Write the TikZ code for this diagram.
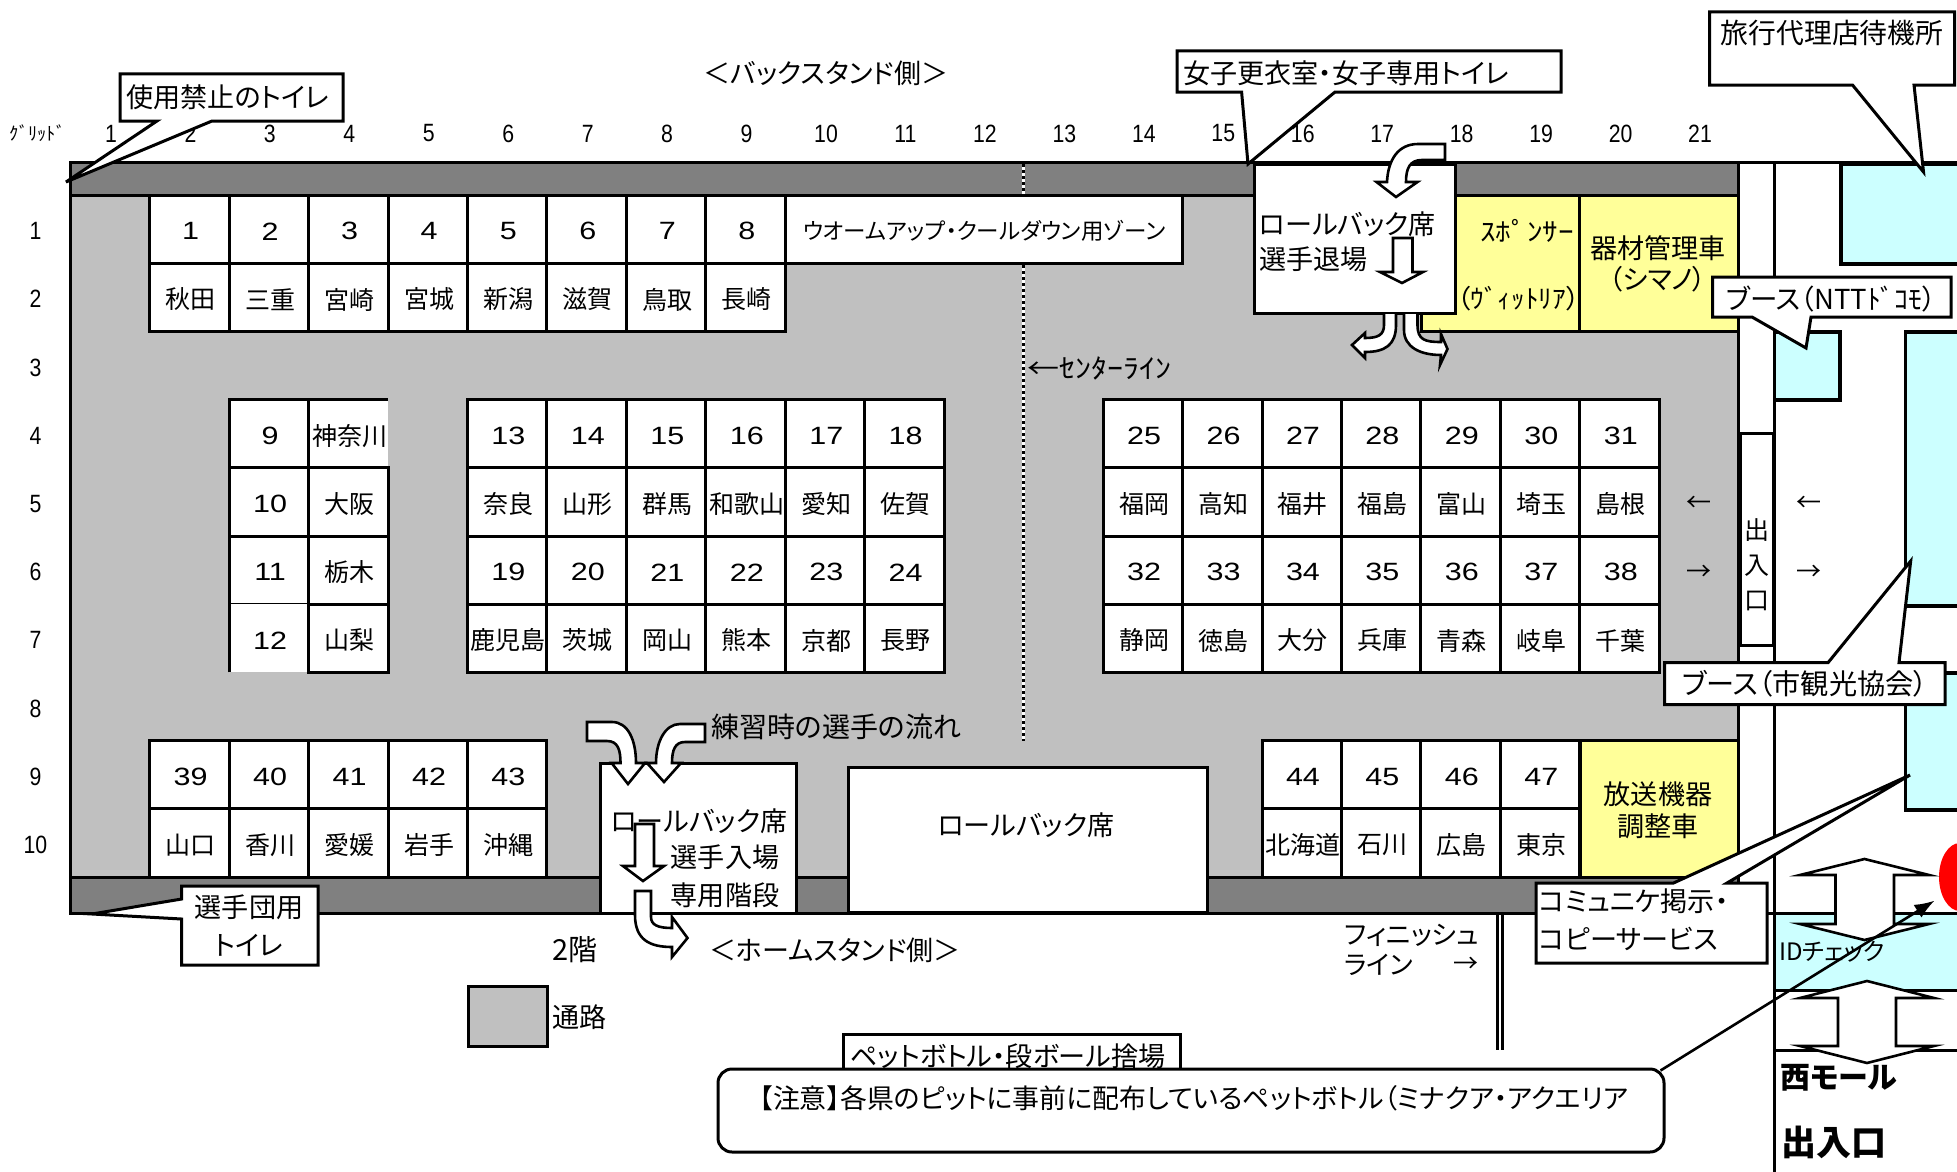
\documentclass[tikz,border=0pt]{standalone}
\usetikzlibrary{arrows.meta}
\usepackage{fontspec}
\setmainfont[RawFeature=+palt]{Noto Sans CJK JP}
\newfontfamily\numf{Liberation Sans}
\newcommand\fs[1]{\fontsize{#1}{#1}\selectfont}
\newcommand\wnum[1]{{\numf\fs{25}\scalebox{1.22}[1]{#1}}}
\newcommand\gnum[1]{{\numf\fs{25}\scalebox{.85}[1]{#1}}}
\newcommand\ct[1]{\hspace*{2.4pt}\raisebox{-2.2pt}[\height][\depth]{#1}}
\definecolor{pathgray}{HTML}{C0C0C0}
\definecolor{bargray}{HTML}{808080}
\definecolor{boothcyan}{HTML}{CCFFFF}
\definecolor{carylw}{HTML}{FFFF99}
\tikzset{
  bline/.style={line width=3pt,line join=miter},
  cellbox/.style={draw=black,line width=3pt,fill=white,minimum width=79.45pt,minimum height=68.2pt,inner sep=0pt,font=\fs{25}},
  fillbox/.style={cellbox,draw=none,outer sep=0pt},
  plain/.style={inner sep=0pt,font=\fs{25}},
  big/.style={inner sep=0pt,font=\fs{27.1}},
  callout/.style={draw=black,line width=3pt,fill=white,line join=miter},
  blockarrow/.style={draw=black,line width=2.6pt,fill=white,line join=miter},
  areabox/.style={draw=black,line width=3pt},
  boothbox/.style={draw=black,line width=3.4pt,fill=boothcyan}
}
\newcommand\cellpair[4]{%
  \pgfmathsetmacro\cx{110+79.45*(#1-1)}%
  \pgfmathsetmacro\cya{229.1+68.2*(#2-1)}%
  \pgfmathsetmacro\cyb{229.1+68.2*(#2)}%
  \node[cellbox] (n#3) at (\cx,\cya) {\ct{\wnum{#3}}};
  \node[cellbox] (p#3) at (\cx,\cyb) {\ct{#4}};
}
\begin{document}
\begin{tikzpicture}[x=1pt,y=-1pt]
\clip (0,0) rectangle (1957,1172);
\useasboundingbox (0,0) rectangle (1957,1172);
% outside booths
\fill[boothcyan] (1774,914) rectangle (1957,990);
\draw[bline] (1774,913) -- (1957,913);
\draw[bline] (1774,990) -- (1957,990);
\draw[bline] (1774,1050) -- (1957,1050);
\draw[boothbox] (1974,164) -- (1841,164) -- (1841,264) -- (1974,264);
\draw[boothbox] (1774,332) -- (1840,332) -- (1840,400) -- (1774,400);
\draw[boothbox] (1974,332) -- (1905.5,332) -- (1905.5,606) -- (1974,606);
\draw[boothbox] (1974,673) -- (1905.5,673) -- (1905.5,810) -- (1974,810);
\fill[red] (1960,877) ellipse [x radius=21,y radius=34];
% main floor
\fill[pathgray] (70,162) rectangle (1738,913);
\fill[bargray] (70,162) rectangle (1738,195);
\fill[bargray] (70,877) rectangle (1738,913);
\draw[bline] (70,195) -- (1738,195);
\draw[bline] (70,877) -- (1738,877);
\draw[bline] (70,913) rectangle (1738,162);
\draw[bline] (1738,162) -- (1957,162);
\draw[bline] (1738,913) -- (1774,913);
\draw[bline] (1774,162) -- (1774,1172);
\draw[bline] (1497,913) -- (1497,1050);
\draw[bline] (1502,913) -- (1502,1050);
% centre line
\draw[white,line width=3pt] (1023,164) -- (1023,195);
\draw[white,line width=3pt] (1023,265) -- (1023,741);
\draw[line width=3pt,dash pattern=on 3pt off 3pt] (1023,164) -- (1023,195);
\draw[line width=3pt,dash pattern=on 3pt off 3pt] (1023,265) -- (1023,741);
% yellow areas
\node[areabox,fill=carylw,minimum width=158pt,minimum height=136.4pt,inner sep=0pt] (spons) at (1500,263.3) {};
\node[areabox,fill=carylw,minimum width=159pt,minimum height=136.4pt,inner sep=0pt] (kizai) at (1658.5,263.3) {};
\node[areabox,fill=carylw,minimum width=158pt,minimum height=136.4pt,inner sep=0pt] (hoso) at (1659,808.8) {};
\node[plain,anchor=east,font=\fs{26}] (sponsa) at (1574,231) {\scalebox{1.2}[1]{ｽﾎﾟﾝｻｰ}};
\node[plain,anchor=east,font=\fs{26}] (sponsb) at (1580,299) {\scalebox{1.05}[1]{（ｳﾞｨｯﾄﾘｱ）}};
\node[big] (kizaia) at (1658,248) {器材管理車};
\node[big] (kizaib) at (1658,279) {（シマノ）};
\node[big] (hosoa) at (1658,794) {放送機器};
\node[big] (hosob) at (1658,826) {調整車};
% seats
\cellpair{2}{1}{1}{秋田}
\cellpair{3}{1}{2}{三重}
\cellpair{4}{1}{3}{宮崎}
\cellpair{5}{1}{4}{宮城}
\cellpair{6}{1}{5}{新潟}
\cellpair{7}{1}{6}{滋賀}
\cellpair{8}{1}{7}{鳥取}
\cellpair{9}{1}{8}{長崎}
\cellpair{6}{4}{13}{奈良}
\cellpair{7}{4}{14}{山形}
\cellpair{8}{4}{15}{群馬}
\cellpair{9}{4}{16}{和歌山}
\cellpair{10}{4}{17}{愛知}
\cellpair{11}{4}{18}{佐賀}
\cellpair{6}{6}{19}{鹿児島}
\cellpair{7}{6}{20}{茨城}
\cellpair{8}{6}{21}{岡山}
\cellpair{9}{6}{22}{熊本}
\cellpair{10}{6}{23}{京都}
\cellpair{11}{6}{24}{長野}
\cellpair{14}{4}{25}{福岡}
\cellpair{15}{4}{26}{高知}
\cellpair{16}{4}{27}{福井}
\cellpair{17}{4}{28}{福島}
\cellpair{18}{4}{29}{富山}
\cellpair{19}{4}{30}{埼玉}
\cellpair{20}{4}{31}{島根}
\cellpair{14}{6}{32}{静岡}
\cellpair{15}{6}{33}{徳島}
\cellpair{16}{6}{34}{大分}
\cellpair{17}{6}{35}{兵庫}
\cellpair{18}{6}{36}{青森}
\cellpair{19}{6}{37}{岐阜}
\cellpair{20}{6}{38}{千葉}
\cellpair{2}{9}{39}{山口}
\cellpair{3}{9}{40}{香川}
\cellpair{4}{9}{41}{愛媛}
\cellpair{5}{9}{42}{岩手}
\cellpair{6}{9}{43}{沖縄}
\cellpair{16}{9}{44}{北海道}
\cellpair{17}{9}{45}{石川}
\cellpair{18}{9}{46}{広島}
\cellpair{19}{9}{47}{東京}
% block 9-12
\node[fillbox] (n9) at (268.9,433.7) {\ct{\wnum{9}}};
\node[fillbox] (p9) at (348.3,433.7) {\ct{神奈川}};
\draw[bline] (n9.south west) -- (n9.north west) -- (p9.north east);
\node[cellbox] (n10) at (268.9,501.9) {\ct{\wnum{10}}};
\node[cellbox] (p10) at (348.3,501.9) {\ct{大阪}};
\node[cellbox] (n11) at (268.9,570.1) {\ct{\wnum{11}}};
\node[cellbox] (p11) at (348.3,570.1) {\ct{栃木}};
\node[fillbox] (n12) at (268.9,638.3) {\ct{\wnum{12}}};
\node[cellbox] (p12) at (348.3,638.3) {\ct{山梨}};
\draw[bline] (n12.south west) -- (n12.north west);
\draw[bline] (p9.north west) -- (p9.south west) -- (p9.south east);
% warm-up zone
\node[cellbox,minimum width=397pt,font=\fs{22.5}] (warm) at (984,229.1) {\raisebox{-1.5pt}[\height][\depth]{ウオームアップ・クールダウン用ゾーン}};
% roll-back boxes
\node[areabox,fill=white,minimum width=201pt,minimum height=149pt,inner sep=0pt] (exitbox) at (1354.5,238.5) {};
\node[areabox,fill=white,minimum width=196pt,minimum height=150pt,inner sep=0pt] (entrybox) at (698,838) {};
\node[areabox,fill=white,minimum width=359pt,minimum height=145.5pt,inner sep=0pt] (rollc) at (1027.5,840) {};
\node[big,anchor=west] (exita) at (1259,224) {ロールバック席};
\node[big,anchor=west] (exitb) at (1259,259) {選手退場};
\node[big] (entrya) at (699,821) {ロールバック席};
\node[big] (entryb) at (725,857) {選手入場};
\node[big] (entryc) at (725,895) {専用階段};
\node[big] (rollt) at (1026,825) {ロールバック席};
% block arrows, exit side
\draw[blockarrow] (1445,144) -- (1418,144) .. controls (1398,144) and (1388,160) .. (1387,182) -- (1376.5,182) -- (1396,197) -- (1417.5,182) -- (1406,182) .. controls (1406,168) and (1410,160) .. (1422,160) -- (1445,160) -- cycle;
\draw[blockarrow] (1393,238) -- (1412.5,238) -- (1412.5,272) -- (1423,272) -- (1402,283) -- (1380,272) -- (1393,272) -- cycle;
\draw[blockarrow] (1384,314) -- (1384,325) .. controls (1384,335) and (1378,338) .. (1365,338) -- (1365,333) -- (1352,345) -- (1365,358) -- (1365,352) .. controls (1385,352) and (1396,345) .. (1396,325) -- (1396,314);
\draw[blockarrow] (1404,314) -- (1404,330) .. controls (1404,347) and (1420,355) .. (1441,355) -- (1440,365) -- (1447.5,349) -- (1441,334) -- (1441,342) .. controls (1425,342) and (1417.5,340) .. (1417.5,325) -- (1417.5,314);
% block arrows, entry side
\draw[blockarrow] (587,722) -- (612,722) .. controls (628,722) and (636,740) .. (636,763) -- (645,763) -- (628,784) -- (611.6,763) -- (620.5,763) .. controls (620.5,750) and (618,741) .. (607,741) -- (587,741) -- cycle;
\draw[blockarrow] (705,724) -- (680,724) .. controls (665,724) and (656,742) .. (656,763) -- (647,763) -- (664,782) -- (681,763) -- (672,763) .. controls (672,750) and (675,742) .. (685,742) -- (705,742) -- cycle;
\draw[blockarrow] (635,824) -- (654,824) -- (654,866) -- (664,866) -- (643,881) -- (623,866) -- (635,866) -- cycle;
\draw[blockarrow] (635,891) -- (651,891) -- (651,917) .. controls (651,925) and (658,928) .. (672,928) -- (672,917) -- (687.5,938) -- (672,957) -- (672,947) .. controls (650,947) and (635,940) .. (635,915) -- cycle;
% entrance box
\node[draw=black,line width=2.6pt,fill=white,minimum width=32.5pt,minimum height=212.5pt,inner sep=0pt] (door) at (1757,539.5) {};
\node[plain] (doora) at (1757,530) {出};
\node[plain] (doorb) at (1757,566) {入};
\node[plain] (doorc) at (1757,601) {口};
\node[plain] (arl1) at (1699,504) {←};
\node[plain] (arr1) at (1699,573) {→};
\node[plain] (arl2) at (1809,504) {←};
\node[plain] (arr2) at (1809,573) {→};
% white double arrows
\draw[blockarrow] (1864.5,859) -- (1800,875) -- (1835.5,875) -- (1835.5,924) -- (1800,924) -- (1864.5,940) -- (1929,924) -- (1894,924) -- (1894,875) -- (1929,875) -- cycle;
\draw[blockarrow] (1867,981) -- (1800,998) -- (1838,998) -- (1838,1046) -- (1800,1046) -- (1867,1063) -- (1934,1046) -- (1896,1046) -- (1896,998) -- (1934,998) -- cycle;
\node[plain,anchor=west,font=\fs{24}] (idc) at (1779,952) {IDチェック};
\node[plain,anchor=west,font=\bfseries\fs{30}] (westm) at (1780,1078) {西モール};
\node[plain,anchor=west,font=\bfseries\fs{35}] (exitt) at (1781,1142) {出入口};
% grid labels
\node[plain,font=\fs{18.5}] (gridt) at (37.5,133) {ｸﾞﾘｯﾄﾞ};
\foreach \i in {1,...,21} {
  \pgfmathsetmacro\cx{111+79.45*(\i-1)}
  \node[plain] (gc\i) at (\cx,133.5) {\gnum{\i}};
}
\foreach \r in {1,...,10} {
  \pgfmathsetmacro\cy{231+68.2*(\r-1)}
  \node[plain] (gr\r) at (35.5,\cy) {\gnum{\r}};
}
% free labels
\node[plain,font=\fs{27}] (back) at (826,73.5) {＜バックスタンド側＞};
\node[plain,font=\fs{27}] (home) at (835,950) {＜ホームスタンド側＞};
\node[big,anchor=west] (center) at (1027,368) {\scalebox{1.18}[1]{←ｾﾝﾀｰﾗｲﾝ}};
\node[plain,anchor=west,font=\fs{28}] (flow) at (711,727) {練習時の選手の流れ};
\node[plain,font=\fs{29}] (floor) at (575,950) {2階};
\node[areabox,fill=pathgray,minimum width=79pt,minimum height=60pt,inner sep=0pt] (legend) at (508,1016.5) {};
\node[big,anchor=west] (legendt) at (552,1017) {通路};
\node[plain,anchor=east,font=\fs{26.5}] (fina) at (1479,935) {フィニッシュ};
\node[plain,anchor=west,font=\fs{26}] (finb) at (1344,965) {ライン};
\node[plain] (finc) at (1466,965) {→};
% callouts
\draw[callout] (120,74) -- (343,74) -- (343,121) -- (212,121) -- (66,182) -- (157,121) -- (120,121) -- cycle;
\node[big,anchor=west] (t1) at (126,97) {使用禁止のトイレ};
\draw[callout] (1177,51) -- (1561,51) -- (1561,92) -- (1335,92) -- (1248,164) -- (1241.6,92) -- (1177,92) -- cycle;
\node[big,anchor=west] (t2) at (1183,73) {女子更衣室・女子専用トイレ};
\draw[callout] (1709.5,12) -- (1954.5,12) -- (1954.5,85) -- (1914,85) -- (1923.5,172) -- (1852.5,85) -- (1709.5,85) -- cycle;
\node[plain,font=\fs{27.8}] (t3) at (1832,33) {旅行代理店待機所};
\draw[callout] (1712.5,277) -- (1951,277) -- (1951,317) -- (1811,317) -- (1806,348) -- (1752,317) -- (1712.5,317) -- cycle;
\node[plain,font=\fs{27.5}] (t4) at (1831,299) {ブース（NTTﾄﾞｺﾓ）};
\draw[callout] (1664.6,662.7) -- (1828,662.7) -- (1910.7,561) -- (1899,662.7) -- (1945,662.7) -- (1945,704.5) -- (1664.6,704.5) -- cycle;
\node[plain,font=\fs{28.2}] (t5) at (1805,684) {ブース（市観光協会）};
\draw[callout] (1536,883) -- (1673.5,883) -- (1910,775) -- (1727,883) -- (1767,883) -- (1767,963) -- (1536,963) -- cycle;
\node[big,anchor=west] (t6) at (1539,901.5) {コミュニケ掲示・};
\node[big,anchor=west] (t7) at (1539,938.5) {コピーサービス};
\draw[callout] (181.6,886) -- (318,886) -- (318,965) -- (181.6,965) -- (181.6,919) -- (92,914) -- (181.6,899) -- cycle;
\node[big] (t8) at (249,907) {選手団用};
\node[big] (t9) at (249,945) {トイレ};
% notices
\node[draw=black,line width=3pt,fill=white,minimum width=337pt,minimum height=38pt,inner sep=0pt] (petbox) at (1011.5,1053) {};
\node[big,anchor=west] (pett) at (850,1056) {ペットボトル・段ボール捨場};
\node[draw=black,line width=3pt,fill=white,rounded corners=14pt,minimum width=946pt,minimum height=83pt,inner sep=0pt] (note) at (1191,1110.5) {};
\node[plain,font=\fs{26.9}] (notet) at (1194,1098) {【注意】各県のピットに事前に配布しているペットボトル（ミナクア・アクエリア};
\coordinate (tip) at (1934.6,900.6);
\draw[line width=2.6pt,-{Latex[length=20pt,width=15pt]}] (note.north east) ++(-5,3) -- (tip);
\end{tikzpicture}
\end{document}
